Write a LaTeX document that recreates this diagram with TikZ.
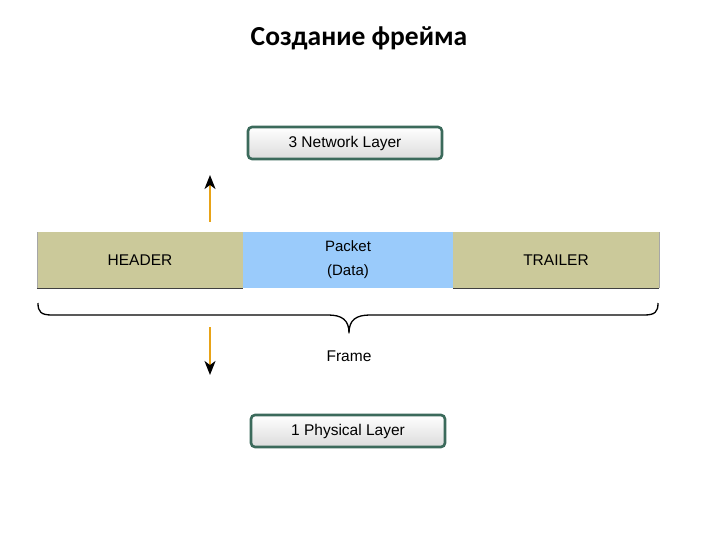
\documentclass[tikz,border=0pt]{standalone}
\usepackage{fontspec}
\setmainfont{Liberation Sans}
\newfontfamily\titlefont{Carlito}
\usetikzlibrary{arrows.meta}
\definecolor{layerborder}{HTML}{3B6A5B}
\definecolor{khaki}{HTML}{CBC99A}
\definecolor{pktblue}{HTML}{9ACBFB}
\definecolor{arroworange}{HTML}{E8A317}
\tikzset{
  layerbox/.style={draw=layerborder, line width=2.6pt, rounded corners=4pt,
    top color=white, bottom color=black!14, minimum width=194pt, minimum height=32pt,
    font=\fontsize{15.5}{18}\selectfont, inner sep=0pt},
  seg/.style={minimum width=206pt, minimum height=56pt, inner sep=0pt, font=\fontsize{15.5}{18}\selectfont},
  flowarrow/.style={draw=arroworange, line width=1.6pt, -{Stealth[length=14pt,width=11pt,inset=4pt,black]}},
}
\begin{document}
\begin{tikzpicture}[x=1pt,y=-1pt]
\useasboundingbox (0,0) rectangle (720,540);
\node[font=\titlefont\bfseries\fontsize{27.5}{32}\selectfont] (title) at (359,38) {Создание фрейма};
\node[layerbox] (net) at (345,143) {3 Network Layer};
\node[layerbox] (phy) at (348,431) {1 Physical Layer};
\node[seg, fill=khaki] (hdr) at (140,260) {HEADER};
\node[seg, fill=pktblue, minimum width=210pt, align=center, font=\fontsize{15}{24}\selectfont] (pkt) at (348,260) {Packet\\(Data)};
\node[seg, fill=khaki] (trl) at (556,260) {TRAILER};
\draw[black!75, line width=0.8pt] (hdr.south west) -- (hdr.south east);
\draw[black!75, line width=0.8pt] (trl.south west) -- (trl.south east);
\draw[black!35, line width=0.6pt] (hdr.south west) -- (hdr.north west);
\draw[black!35, line width=0.6pt] (trl.south east) -- (trl.north east);
\coordinate (upS) at (210,222);
\coordinate (upE) at (210,175);
\draw[flowarrow] (upS) -- (upE);
\coordinate (dnS) at (210,327);
\coordinate (dnE) at (210,375);
\draw[flowarrow] (dnS) -- (dnE);
\coordinate (brL) at (38,303);
\coordinate (brR) at (658,303);
\coordinate (brT) at (349,333);
\draw[line width=1.3pt, line join=round] (brL) .. controls (38,312) and (41,315) .. (52,315)
  -- (328,315) .. controls (342,315) and (349,320) .. (brT)
  .. controls (349,320) and (356,315) .. (370,315) -- (644,315)
  .. controls (655,315) and (658,312) .. (brR);
\node[font=\fontsize{15.5}{18}\selectfont] (frame) at (349,356) {Frame};
\end{tikzpicture}
\end{document}
